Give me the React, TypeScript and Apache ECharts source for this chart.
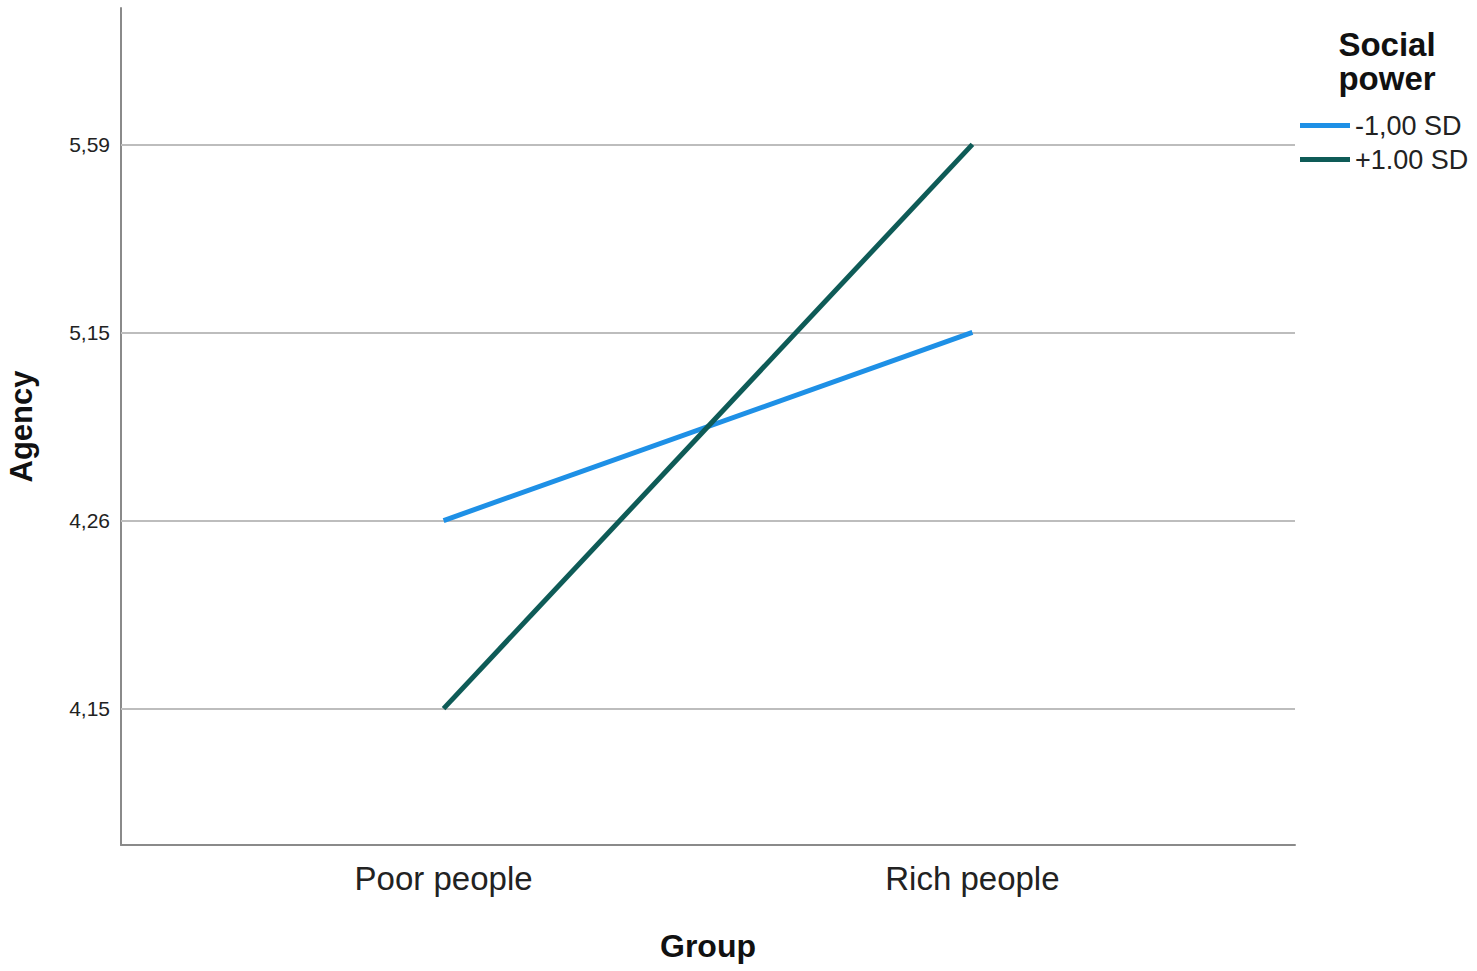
import React, { useEffect, useRef } from "react";
import * as echarts from "echarts";

const groups = ["Poor people", "Rich people"];
const yTickLabels = ["4,15", "4,26", "5,15", "5,59"];
const lowPower = ["4,26", "5,15"]; // -1,00 SD
const highPower = ["4,15", "5,59"]; // +1.00 SD
const seriesNames = ["-1,00 SD", "+1.00 SD"];

const FONT = "'Liberation Sans', Arial, sans-serif";

export default function App() {
  const ref = useRef<HTMLDivElement>(null);
  useEffect(() => {
    const chart = echarts.init(ref.current!, undefined, { renderer: "svg" });
    const toPts = (arr: string[]) => arr.map((v, i) => [i, yTickLabels.indexOf(v)]);
    const gridLineData = yTickLabels.map((_, i) => ({ yAxis: i }));
    chart.setOption({
      animation: false,
      textStyle: { fontFamily: FONT },
      title: {
        text: "Social\npower",
        left: 1382,
        top: 22,
        textAlign: "center",
        textStyle: { fontFamily: FONT, fontSize: 33, fontWeight: "bold", color: "#111", lineHeight: 34 },
      },
      legend: {
        orient: "vertical",
        left: 1295,
        top: 107,
        itemWidth: 50,
        itemHeight: 5,
        itemGap: 7,
        icon: "rect",
        data: seriesNames,
        textStyle: { fontFamily: FONT, fontSize: 27, color: "#222" },
      },
      grid: { left: 121, right: 182, top: 8, bottom: 126, outerBoundsMode: "none" },
      xAxis: {
        type: "value",
        min: -0.61,
        max: 1.61,
        splitLine: { show: false },
        axisTick: { show: false },
        axisLine: { show: true, onZero: false, lineStyle: { color: "#8a8a8a", width: 2 } },
        axisLabel: {
          customValues: [0, 1],
          formatter: (v: number) => groups[Math.round(v)] ?? "",
          fontSize: 33,
          color: "#222",
          margin: 17,
          fontFamily: FONT,
        },
        name: "Group",
        nameLocation: "middle",
        nameGap: 85,
        nameTextStyle: { fontFamily: FONT, fontSize: 32, fontWeight: "bold", color: "#111" },
      },
      yAxis: {
        type: "value",
        min: -0.725,
        max: 3.725,
        splitLine: { show: false },
        axisTick: { show: false },
        axisLine: { show: true, onZero: false, lineStyle: { color: "#8a8a8a", width: 2 } },
        axisLabel: {
          customValues: [0, 1, 2, 3],
          formatter: (v: number) => yTickLabels[Math.round(v)] ?? "",
          fontSize: 21,
          color: "#222",
          margin: 11,
          fontFamily: FONT,
        },
        name: "Agency",
        nameLocation: "middle",
        nameGap: 84,
        nameRotate: 90,
        nameTextStyle: { fontFamily: FONT, fontSize: 31, fontWeight: "bold", color: "#111" },
      },
      series: [
        {
          name: seriesNames[0],
          type: "line",
          data: toPts(lowPower),
          symbol: "none",
          color: "#1e90e6",
          lineStyle: { width: 5, color: "#1e90e6" },
          z: 3,
          markLine: {
            silent: true,
            symbol: "none",
            label: { show: false },
            lineStyle: { color: "#bdbdbd", width: 2, type: "solid" },
            data: gridLineData,
            z: 1,
          },
        },
        {
          name: seriesNames[1],
          type: "line",
          data: toPts(highPower),
          symbol: "none",
          color: "#0e5b57",
          lineStyle: { width: 5, color: "#0e5b57" },
          z: 4,
        },
      ],
    });
    return () => chart.dispose();
  }, []);
  return (
    <div
      ref={ref}
      style={{ position: "absolute", left: 0, top: 0, width: 1477, height: 971, background: "#fff" }}
    />
  );
}
